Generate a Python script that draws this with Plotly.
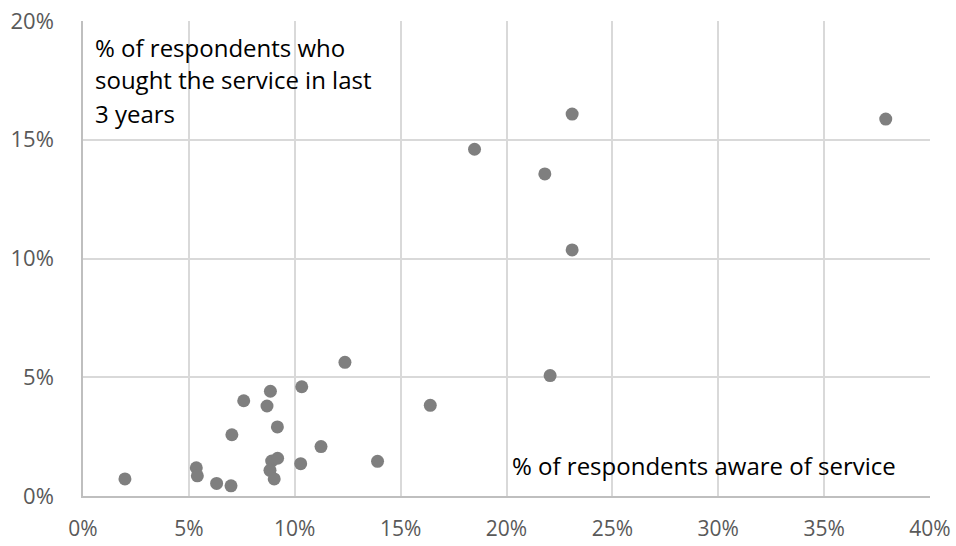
import plotly.graph_objects as go

# Share of respondents aware of each service (x) and who sought it in the last 3 years (y)
aware = [0.0198, 0.0535, 0.0540, 0.0631, 0.0699, 0.0703, 0.0759, 0.0869, 0.0885,
         0.0918, 0.0891, 0.0919, 0.0883, 0.0903, 0.1033, 0.1028, 0.1124, 0.1237,
         0.1391, 0.1640, 0.2206, 0.2310, 0.1849, 0.2181, 0.2310, 0.3791]
sought = [0.0072, 0.0119, 0.0085, 0.0053, 0.0043, 0.0258, 0.0401, 0.0379, 0.0441,
          0.0291, 0.0147, 0.0159, 0.0108, 0.0072, 0.0460, 0.0136, 0.0208, 0.0563,
          0.0146, 0.0382, 0.0507, 0.1608, 0.1460, 0.1356, 0.1036, 0.1587]

x_ticks = [0, 0.05, 0.10, 0.15, 0.20, 0.25, 0.30, 0.35, 0.40]
y_ticks = [0, 0.05, 0.10, 0.15, 0.20]

y_title_lines = ["% of respondents who", "sought the service in last", "3 years"]
x_title = "% of respondents aware of service"

font_family = "'Open Sans', sans-serif"
grid_color = "#d9d9d9"
W, H = 956, 546
M = dict(l=83, r=26, t=21, b=50)
plot_w = W - M["l"] - M["r"]
plot_h = H - M["t"] - M["b"]

fig = go.Figure(
    go.Scatter(
        x=aware, y=sought, mode="markers",
        marker=dict(size=13, color="#7f7f7f", line=dict(width=0)),
        hoverinfo="x+y",
    )
)

fig.update_xaxes(
    range=[0, 0.40], tickvals=x_ticks, tickformat=".0%",
    showgrid=True, gridcolor=grid_color, gridwidth=1.5,
    showline=True, linecolor="#bfbfbf", linewidth=1.5,
    zeroline=False, ticks="", ticklabelstandoff=13, automargin=False,
    tickfont=dict(family=font_family, size=21, color="#595959"),
)
fig.update_yaxes(
    range=[0, 0.20], tickvals=y_ticks, tickformat=".0%",
    showgrid=True, gridcolor=grid_color, gridwidth=1.5,
    showline=True, linecolor="#bfbfbf", linewidth=1.5,
    zeroline=False, ticks="", ticklabelstandoff=23, automargin=False,
    tickfont=dict(family=font_family, size=22, color="#595959"),
)

# Vertical-axis caption, one annotation per line for Excel-like line spacing
for i, line in enumerate(y_title_lines):
    py = 47 + 33 * i - M["t"]
    fig.add_annotation(
        text=line, xref="paper", yref="paper",
        x=10 / plot_w, y=1 - py / plot_h,
        xanchor="left", yanchor="middle", align="left", showarrow=False,
        font=dict(family=font_family, size=24, color="#000000"),
    )

fig.add_annotation(
    text=x_title, xref="paper", yref="paper", x=(510 - M["l"]) / plot_w, y=0.065,
    xanchor="left", yanchor="middle", align="left", showarrow=False,
    font=dict(family=font_family, size=24, color="#000000"),
)

fig.update_layout(
    width=W, height=H, margin=M,
    paper_bgcolor="white", plot_bgcolor="white",
    showlegend=False,
)

fig.write_html("out.html")
